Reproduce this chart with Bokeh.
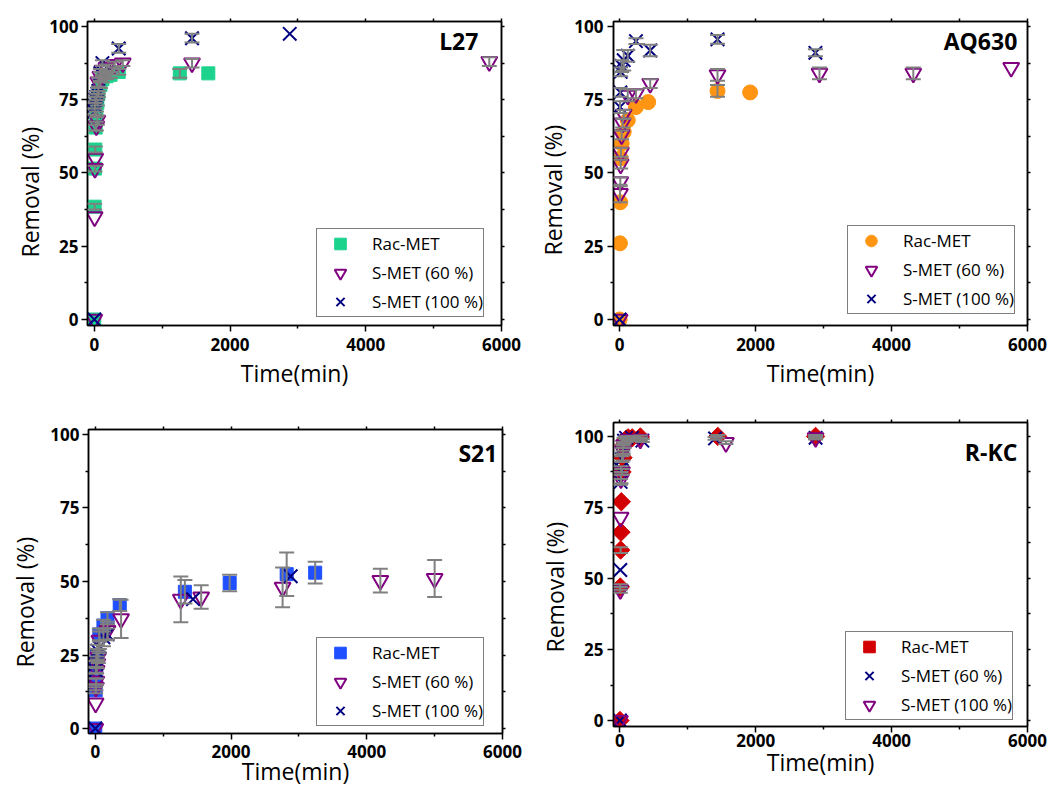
import math
from bokeh.plotting import figure
from bokeh.models import (ColumnDataSource, Whisker, TeeHead, Legend, LegendItem,
                          LinearAxis, FixedTicker, Label, Range1d, Title)
from bokeh.layouts import column, row
from bokeh.embed import file_html
from bokeh.resources import INLINE

FONT = "Open Sans"
GREY = "#808080"
PURPLE = "#800080"
NAVY = "#000080"
GREEN = "#1CD38E"
ORANGE = "#FF9512"
BLUE = "#1F4FFF"
RED = "#D20000"

# ---------------- data ----------------
# L27
l27_rac_t = [0, 5, 10, 15, 20, 30, 45, 60, 90, 120, 180, 240, 360, 1260, 1680]
l27_rac_y = [0, 38.5, 51.5, 58, 65.5, 70, 74, 77, 80, 82, 83, 83.5, 84.5, 84, 84]
l27_rac_e = [0, 1, 1, 1, 1, 1, 1, 1, 1, 1, 1, 1, 1, 1.5, 0]
l27_s60_t = [0, 5, 10, 15, 30, 45, 60, 90, 120, 180, 300, 420, 1440, 5820]
l27_s60_y = [0, 35, 51.5, 55, 66, 68, 81, 83, 85, 86, 87, 87.5, 87.5, 88]
l27_s60_e = [0, 0, 0, 0, 1.5, 1.5, 1.5, 1.5, 1.5, 1, 1, 1, 1.5, 1.5]
l27_s100_t = [0, 5, 10, 15, 30, 45, 60, 90, 120, 360, 1440, 2880]
l27_s100_y = [0, 71, 73, 75, 76, 77, 78, 84, 87.5, 92.5, 96, 97.5]
l27_s100_e = [0, 1, 1, 1, 1, 1, 1, 1.5, 1, 1.5, 1.5, 0]

# AQ630
aq_rac_t = [0, 5, 10, 15, 30, 60, 120, 240, 420, 1440, 1920]
aq_rac_y = [0, 26, 40, 55, 60, 64, 68, 72.5, 74.2, 78, 77.5]
aq_rac_e = [0, 0, 0, 0, 0, 0, 0, 0, 0, 2, 0]
aq_s60_t = [0, 5, 10, 15, 20, 30, 45, 60, 120, 240, 450, 1440, 2940, 4320, 5760]
aq_s60_y = [0, 43, 47, 53, 57, 63, 67, 70, 76.5, 77, 80.5, 83.5, 84, 84, 86]
aq_s60_e = [0, 3, 1.5, 1.5, 1.5, 1.5, 1.5, 1.5, 2, 1.5, 1.5, 2, 2, 2, 0]
aq_s100_t = [0, 5, 10, 15, 30, 60, 120, 240, 450, 1440, 2880]
aq_s100_y = [0, 72.5, 77.5, 84.5, 86.5, 88.5, 90, 95, 91.8, 95.6, 91]
aq_s100_e = [0, 2, 1.5, 1.5, 2, 3.5, 2, 1, 2, 1.5, 1.2]

# S21
s21_rac_t = [0, 5, 10, 15, 30, 60, 120, 180, 360, 1320, 1980, 2820, 3240]
s21_rac_y = [0, 13, 16, 21, 25, 32, 35, 37.5, 42, 46.5, 49.5, 52.5, 53]
s21_rac_e = [0, 1, 1, 2, 2, 2, 2, 2, 2, 4, 2.8, 7.4, 3.7]
s21_s60_t = [0, 5, 10, 15, 20, 30, 45, 60, 180, 380, 1260, 1560, 2760, 4200, 5000]
s21_s60_y = [0, 8.6, 14, 16, 19.7, 22, 24.3, 30, 33.3, 37.3, 43.9, 44.7, 48, 50.3, 51]
s21_s60_e = [0, 0, 1, 1, 1, 1.5, 2, 3, 3, 6.5, 7.8, 4, 6.8, 4, 6.3]
s21_s100_t = [0, 5, 10, 15, 30, 60, 120, 180, 1440, 2880]
s21_s100_y = [0, 19.7, 22, 25, 26.5, 27.6, 31, 32, 44, 51.8]
s21_s100_e = [0, 1, 1, 2, 2, 2, 3, 2, 0, 0]

# R-KC
rk_rac_t = [0, 5, 10, 15, 20, 30, 45, 60, 90, 120, 180, 300, 1440, 2880]
rk_rac_y = [0, 47, 60, 66.3, 77, 87.5, 92.5, 97, 99, 99.5, 99.5, 99.8, 100, 100]
rk_rac_e = [0, 1, 1, 0, 0, 1, 1, 1, 1, 0.5, 0.5, 0.5, 0.5, 0.5]
rk_s60_t = [0, 5, 10, 15, 30, 45, 60, 90, 180, 330, 1400, 2880]
rk_s60_y = [0, 53, 84, 88.5, 92, 96, 98.5, 99.5, 99.5, 98.5, 99.3, 99.5]
rk_s60_e = [0, 0, 1, 1, 1, 1, 1, 0.5, 0.5, 0.5, 0.5, 0.5]
rk_s100_t = [0, 5, 10, 15, 30, 45, 60, 120, 300, 1560, 2880]
rk_s100_y = [0, 46, 71.5, 85, 87.5, 95, 97, 99, 99, 97.8, 99.5]
rk_s100_e = [0, 1, 0, 1.5, 1, 1, 1, 0.5, 0.5, 0.5, 0.5]

y_ticks = [0, 25, 50, 75, 100]
y_minor = [12.5, 37.5, 62.5, 87.5]
x_ticks = [0, 2000, 4000, 6000]
x_minor = [1000, 3000, 5000]

# ---------------- styles ----------------
STY = {
    "sq_green": dict(marker="square", size=13, fill_color=GREEN, line_color=GREEN, angle=0),
    "circ_orange": dict(marker="circle", size=15, fill_color=ORANGE, line_color=ORANGE, angle=0),
    "sq_blue": dict(marker="square", size=13, fill_color=BLUE, line_color=BLUE, angle=0),
    "dia_red": dict(marker="square", size=13, fill_color=RED, line_color=RED, angle=math.pi / 4),
    "tri": dict(marker="inverted_triangle", size=16, fill_alpha=0, line_color=PURPLE, line_width=2, angle=0),
    "x": dict(marker="x", size=19, line_color=NAVY, line_width=2, angle=0),
}


def make_panel(title, series, geo):
    p = figure(frame_width=414, frame_height=304,
               x_range=Range1d(*geo["xr"]), y_range=Range1d(*geo["yr"]),
               output_backend="svg", toolbar_location=None,
               min_border_left=geo["bl"], min_border_right=geo["br"],
               min_border_top=geo["bt"], min_border_bottom=geo["bb"],
               background_fill_color="white", border_fill_color="white")
    p.grid.visible = False
    p.outline_line_color = "black"
    p.outline_line_width = 1.5

    p.xaxis.ticker = FixedTicker(ticks=x_ticks, minor_ticks=x_minor)
    p.yaxis.ticker = FixedTicker(ticks=y_ticks, minor_ticks=y_minor)
    for ax in (p.xaxis[0], p.yaxis[0]):
        ax.axis_line_width = 1.5
        ax.major_tick_line_width = 1.5
        ax.minor_tick_line_width = 1.5
        ax.major_tick_in = 0
        ax.major_tick_out = 6
        ax.minor_tick_in = 0
        ax.minor_tick_out = 3
        ax.major_label_text_font = FONT
        ax.major_label_text_font_style = "bold"
        ax.major_label_text_font_size = "17px"
        ax.major_label_text_color = "black"
        ax.axis_label_text_font = FONT
        ax.axis_label_text_font_style = "normal"
        ax.axis_label_text_font_size = "23px"
        ax.axis_label_text_color = "black"
    p.xaxis.axis_label = "Time(min)"
    p.xaxis.major_label_standoff = geo["xls"]
    p.xaxis.axis_label_standoff = geo["xas"]
    p.yaxis.major_label_standoff = geo["yls"]

    # y-axis title (placed below the frame centre as in the original)
    p.add_layout(Title(text="Removal (%)", align="left", offset=geo["yoff"],
                       standoff=geo["yas"], text_font=FONT, text_font_style="normal",
                       text_font_size="23px", text_color="black"), "left")

    # mirror axes (ticks only, labels not drawn)
    for side, tk, mn in (("right", y_ticks, y_minor), ("above", x_ticks, x_minor)):
        ax = LinearAxis(ticker=FixedTicker(ticks=tk, minor_ticks=mn),
                        major_label_text_color=None, major_label_text_font_size="6px",
                        axis_line_width=1.5,
                        major_tick_in=0, major_tick_out=3, minor_tick_in=0, minor_tick_out=3,
                        major_tick_line_width=1.5, minor_tick_line_width=1.5,
                        major_label_standoff=0)
        p.add_layout(ax, side)

    items = []
    for label, t, y, e, sty in series:
        src = ColumnDataSource(dict(t=t, y=y))
        r = p.scatter("t", "y", source=src, **STY[sty])
        items.append(LegendItem(label=label, renderers=[r]))
        esrc = ColumnDataSource(dict(
            t=[a for a, b in zip(t, e) if b > 0],
            lo=[a - b for a, b in zip(y, e) if b > 0],
            hi=[a + b for a, b in zip(y, e) if b > 0]))
        w = Whisker(source=esrc, base="t", lower="lo", upper="hi", dimension="height",
                    line_color=GREY, line_width=2, level="overlay",
                    upper_head=TeeHead(size=15, line_color=GREY, line_width=2),
                    lower_head=TeeHead(size=15, line_color=GREY, line_width=2))
        p.add_layout(w)

    leg = Legend(items=items, location=geo["leg"], margin=0, padding=0, spacing=0,
                 glyph_width=46, glyph_height=29, label_height=29, label_standoff=9,
                 label_text_font=FONT, label_text_font_size="17px", label_text_color="black",
                 border_line_color="black", border_line_width=1, background_fill_color="white",
                 background_fill_alpha=1)
    p.add_layout(leg)

    p.add_layout(Label(x=geo["tx"], y=geo["ty"], text=title, text_align="right",
                       text_baseline="top", text_font=FONT, text_font_style="bold",
                       text_font_size="23px", text_color="black"))
    return p


p1 = make_panel("L27", [
    ("Rac-MET", l27_rac_t, l27_rac_y, l27_rac_e, "sq_green"),
    ("S-MET (60 %)", l27_s60_t, l27_s60_y, l27_s60_e, "tri"),
    ("S-MET (100 %)", l27_s100_t, l27_s100_y, l27_s100_e, "x"),
], dict(xr=(-100, 6000), yr=(-2.05, 101.7), bl=87, br=29, bt=21, bb=75,
        xls=6, xas=3, yls=3, yas=2, yoff=68, leg=(229, 8), tx=5660, ty=100.5))

p2 = make_panel("AQ630", [
    ("Rac-MET", aq_rac_t, aq_rac_y, aq_rac_e, "circ_orange"),
    ("S-MET (60 %)", aq_s60_t, aq_s60_y, aq_s60_e, "tri"),
    ("S-MET (100 %)", aq_s100_t, aq_s100_y, aq_s100_e, "x"),
], dict(xr=(-90, 6000), yr=(-2.05, 101.7), bl=83, br=22, bt=21, bb=75,
        xls=6, xas=3, yls=4, yas=5, yoff=70, leg=(234, 11), tx=5850, ty=100.5))

p3 = make_panel("S21", [
    ("Rac-MET", s21_rac_t, s21_rac_y, s21_rac_e, "sq_blue"),
    ("S-MET (60 %)", s21_s60_t, s21_s60_y, s21_s60_e, "tri"),
    ("S-MET (100 %)", s21_s100_t, s21_s100_y, s21_s100_e, "x"),
], dict(xr=(-100, 6000), yr=(-1.7, 101.7), bl=87, br=29, bt=29, bb=60,
        xls=5, xas=-6, yls=3, yas=13, yoff=66, leg=(228, 7), tx=5925, ty=99.2))

p4 = make_panel("R-KC", [
    ("Rac-MET", rk_rac_t, rk_rac_y, rk_rac_e, "dia_red"),
    ("S-MET (60 %)", rk_s60_t, rk_s60_y, rk_s60_e, "x"),
    ("S-MET (100 %)", rk_s100_t, rk_s100_y, rk_s100_e, "tri"),
], dict(xr=(-95, 6000), yr=(-2.1, 104.9), bl=82, br=23, bt=22, bb=67,
        xls=1, xas=-4, yls=4, yas=2, yoff=74, leg=(232, 6), tx=5850, ty=100.3))

layout = column(row(p1, p2), row(p3, column(p4)))
open("out.html", "w").write(file_html(layout, INLINE))
